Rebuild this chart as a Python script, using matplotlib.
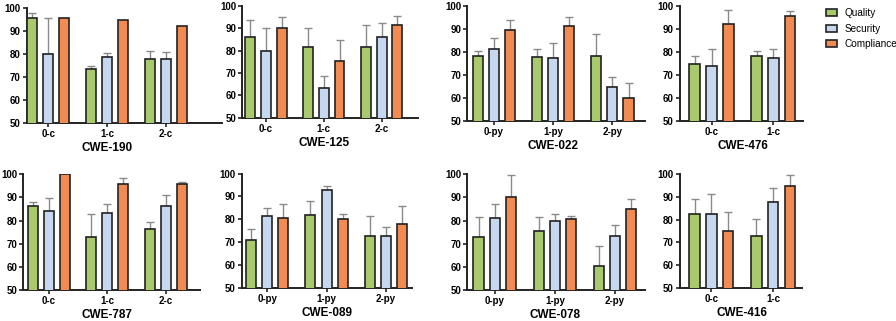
import matplotlib
matplotlib.use("Agg")
import matplotlib.pyplot as plt
from matplotlib.patches import Patch
import numpy as np

plt.rcParams['font.family'] = ['Liberation Sans', 'DejaVu Sans']

# Data (mean, upper error)
series = ['Quality', 'Security', 'Compliance']
colors = ['#a9ca6c', '#c5d8f0', '#f28b52']

titles = ['CWE-190', 'CWE-125', 'CWE-022', 'CWE-476',
          'CWE-787', 'CWE-089', 'CWE-078', 'CWE-416']
groups_c = ['0-c', '1-c', '2-c']
groups_py = ['0-py', '1-py', '2-py']
group_labels = [groups_c, groups_c, groups_py, groups_c[:2],
                groups_c, groups_py, groups_py, groups_c[:2]]

quality = [[95.5, 73.6, 77.9], [86.0, 81.8, 81.8], [78.2, 77.9, 78.3], [74.6, 78.3],
           [86.5, 72.9, 76.2], [70.9, 82.0, 72.5], [72.8, 75.6, 60.3], [82.5, 72.6]]
quality_err = [[2.2, 1.0, 3.3], [7.7, 8.5, 9.8], [2.3, 3.5, 9.5], [3.7, 2.2],
               [1.4, 10.1, 3.1], [4.8, 6.2, 9.1], [8.6, 5.8, 8.9], [6.7, 7.7]]
security = [[79.9, 78.7, 77.7], [80.0, 63.4, 86.0], [81.3, 77.5, 64.5], [74.0, 77.5],
            [84.0, 83.4, 86.5], [81.6, 92.8, 72.5], [81.0, 79.8, 73.5], [82.5, 87.8]]
security_err = [[15.6, 1.9, 3.3], [10.0, 5.3, 6.5], [4.9, 6.2, 4.7], [7.4, 3.9],
                [5.9, 3.6, 4.7], [3.5, 1.9, 4.3], [6.3, 3.1, 4.5], [8.6, 5.9]]
compliance = [[95.5, 94.8, 92.3], [90.0, 75.5, 91.5], [89.5, 91.3, 59.7], [92.2, 95.6],
              [100.0, 95.8, 95.7], [80.7, 80.1, 78.1], [90.1, 80.5, 85.2], [74.9, 94.8]]
compliance_err = [[0, 0, 0], [4.9, 9.3, 4.2], [4.4, 3.8, 6.9], [6.1, 2.4],
                  [0, 2.5, 0.8], [6.1, 2.1, 7.9], [9.6, 1.6, 4.3], [8.3, 4.6]]

# panel rects in pixels: x0, x1, y_top, y_bottom ; and x limits
W, H = 896, 321
rects = [(26.7, 222, 8, 122.7), (242.3, 418, 6, 117.7), (467.3, 645, 6, 120.7), (680, 803, 6, 121),
         (23.3, 200, 174.3, 290), (241.7, 412, 173.7, 287.7), (467.3, 645, 174.3, 290), (680, 802, 174, 288)]
xlims = [(-0.368, 2.96), (-0.41, 2.63), (-0.45, 2.55), (-0.51, 1.48),
         (-0.43, 2.58), (-0.43, 2.44), (-0.46, 2.5), (-0.51, 1.47)]

fig = plt.figure(figsize=(W / 100, H / 100), dpi=100)

bw = 0.17
pitch = 0.272
for i in range(8):
    x0, x1, yt, yb = rects[i]
    ax = fig.add_axes([x0 / W, 1 - yb / H, (x1 - x0) / W, (yb - yt) / H])
    n = len(group_labels[i])
    x = np.arange(n)
    vals = [quality[i], security[i], compliance[i]]
    errs = [quality_err[i], security_err[i], compliance_err[i]]
    for k in range(3):
        xs = x + (k - 1) * pitch
        ax.bar(xs, vals[k], width=bw, bottom=0, color=colors[k],
               edgecolor='#222222', linewidth=1.2, zorder=3)
        e = np.array(errs[k])
        m = e > 0
        if m.any():
            ax.errorbar(xs[m], np.array(vals[k])[m], yerr=[np.zeros(m.sum()), e[m]],
                        fmt='none', ecolor='#8a8a8a', elinewidth=1.0, capsize=3,
                        capthick=1.0, zorder=2)
    ax.set_ylim(50, 100)
    ax.set_xlim(*xlims[i])
    ax.set_yticks([50, 60, 70, 80, 90, 100])
    ax.set_xticks(x)
    ax.set_xticklabels(group_labels[i])
    for s in ['top', 'right']:
        ax.spines[s].set_visible(False)
    for s in ['left', 'bottom']:
        ax.spines[s].set_linewidth(1.4)
        ax.spines[s].set_color('#222222')
    ax.tick_params(axis='both', length=3, width=1.2, color='#222222', pad=1.5,
                   labelsize=7)
    for t in ax.get_xticklabels() + ax.get_yticklabels():
        t.set_fontweight('bold')
    ax.annotate(titles[i], xy=((n - 1) / 2, 0), xycoords=('data', 'axes fraction'),
                xytext=(0, -18), textcoords='offset points', ha='center', va='center',
                fontsize=8.5, fontweight='bold')

handles = [Patch(facecolor=colors[k], edgecolor='#222222', linewidth=1.2) for k in range(3)]
fig.legend(handles, series, loc='upper left', bbox_to_anchor=(826 / W, 1 - 8 / H),
           frameon=False, fontsize=7.2, handlelength=1.1, handleheight=0.7,
           labelspacing=0.55, handletextpad=0.75, borderpad=0, borderaxespad=0)

fig.savefig('out.png', dpi=100)
